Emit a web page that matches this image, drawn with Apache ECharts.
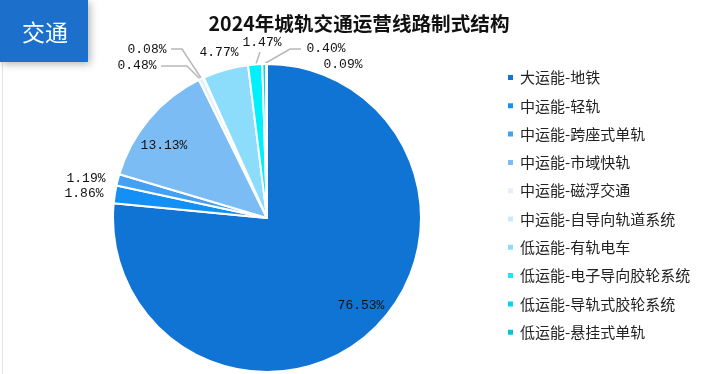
<!DOCTYPE html>
<html>
<head>
<meta charset="utf-8">
<script src="https://cdn.jsdelivr.net/npm/echarts@6/dist/echarts.min.js"></script>
<style>
html,body{margin:0;padding:0;background:#fff;}
#c{width:718px;height:374px;}
</style>
</head>
<body>
<div id="c"></div>
<script>
const categories = ['大运能-地铁','中运能-轻轨','中运能-跨座式单轨','中运能-市域快轨','中运能-磁浮交通','中运能-自导向轨道系统','低运能-有轨电车','低运能-电子导向胶轮系统','低运能-导轨式胶轮系统','低运能-悬挂式单轨'];
const shares = [76.53, 1.86, 1.19, 13.13, 0.48, 0.08, 4.77, 1.47, 0.40, 0.09];
const colors = ['#0f74d4','#1490f5','#44a0f2','#7cbcf4','#dff0fc','#c8ecfc','#8cdcfc','#00f0fc','#00d4ec','#08c4d4'];
const titleText = '2024年城轨交通运营线路制式结构';
const badgeText = '交通';

// label placement (label text centres) and leader lines
const labelPos = {
  0: {x: 361, y: 306},
  1: {x: 84, y: 194},
  2: {x: 86, y: 179},
  3: {x: 164, y: 146},
  4: {x: 137, y: 66, line: [[200, 79], [187, 66], [161, 66]]},
  5: {x: 147, y: 50, line: [[201, 78], [182, 49], [171, 49]]},
  6: {x: 219, y: 53},
  7: {x: 262, y: 43, line: [[256, 64], [260, 52]]},
  8: {x: 326, y: 49, line: [[264, 64], [290, 49], [301, 49]]},
  9: {x: 343, y: 65}
};

const chart = echarts.init(document.getElementById('c'));
chart.setOption({
  backgroundColor: '#fff',
  animation: false,
  title: {
    text: titleText,
    left: 'center',
    top: 9,
    textStyle: {fontFamily: 'Noto Sans CJK SC', fontSize: 19.6, fontWeight: 'bold', color: '#111'}
  },
  legend: {
    orient: 'vertical',
    left: 501,
    top: 65,
    itemWidth: 7,
    itemHeight: 7,
    itemGap: 13.3,
    icon: 'rect',
    textStyle: {fontFamily: 'Noto Sans CJK SC', fontSize: 15, lineHeight: 15, color: '#222', padding: [0,0,0,1]},
    data: categories
  },
  graphic: [
    {type: 'line', shape: {x1: 2.5, y1: 60, x2: 2.5, y2: 374}, style: {stroke: '#e4e4e4', lineWidth: 1}, z: 1},
    {type: 'rect', shape: {x: 0, y: 0, width: 88, height: 62},
     style: {fill: '#1c6fcb', shadowBlur: 8, shadowColor: 'rgba(0,0,0,0.3)', shadowOffsetX: 2, shadowOffsetY: 2}, z: 10},
    {type: 'text', x: 45, y: 32, style: {text: badgeText, fill: '#fff', font: '23px "Noto Sans CJK SC"', align: 'center', verticalAlign: 'middle'}, z: 11}
  ],
  series: [{
    type: 'pie',
    center: [267, 218],
    radius: [0, 154],
    startAngle: 90,
    clockwise: true,
    avoidLabelOverlap: false,
    itemStyle: {borderColor: '#fff', borderWidth: 2},
    label: {
      show: true,
      position: 'outside',
      formatter: p => p.value.toFixed(2) + '%',
      fontFamily: 'Liberation Mono',
      fontSize: 13,
      color: '#111'
    },
    labelLine: {show: true, length: 8, length2: 8, lineStyle: {color: '#b8b8b8', width: 1.5}},
    labelLayout: function (params) {
      const p = labelPos[params.dataIndex];
      if (!p) return {};
      const r = {x: p.x, y: p.y, align: 'center', verticalAlign: 'middle'};
      if (p.line) r.labelLinePoints = p.line;
      return r;
    },
    data: categories.map((name, i) => ({
      name: name,
      value: shares[i],
      itemStyle: {color: colors[i]},
      labelLine: {show: !!labelPos[i].line}
    }))
  }]
});
</script>
</body>
</html>
